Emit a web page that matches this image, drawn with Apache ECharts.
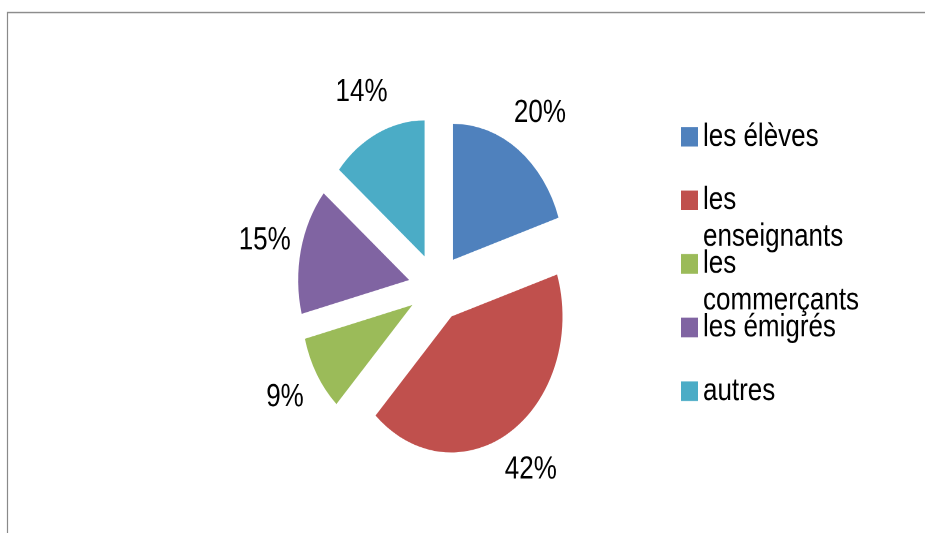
<!DOCTYPE html>
<html>
<head>
<meta charset="utf-8">
<script src="https://cdn.jsdelivr.net/npm/echarts@6/dist/echarts.min.js"></script>
<style>
  html, body { margin: 0; padding: 0; background: #fff; width: 925px; height: 533px; overflow: hidden; }
  /* the source picture is stretched vertically, so the chart is drawn 435px high and stretched */
  #chart {
    width: 925px;
    height: 435px;
    transform: scaleY(1.2253);
    transform-origin: 0 0;
  }
</style>
</head>
<body>
<div id="chart"></div>
<script>
// parts, in percent
const categories = ['les élèves', 'les enseignants', 'les commerçants', 'les émigrés', 'autres']
const values = [20, 42, 9, 15, 14]
const colors = ['#4F81BD', '#C0504D', '#9BBB59', '#8064A2', '#4BACC6']

const FONT = '"Liberation Sans", Arial, sans-serif'
const legendWidth = 165

const ctx = document.createElement('canvas').getContext('2d')
ctx.font = '26px ' + FONT

// wrap long names at the first space; pad with blank lines so the icon sits on the first line
function legendText(name) {
  let lines = [name]
  if (ctx.measureText(name).width > legendWidth) {
    const i = name.indexOf(' ')
    lines = [name.slice(0, i), name.slice(i + 1)]
  }
  if (lines.length === 1) lines.push(' ')
  return [' '].concat(lines).join('\n')
}

const chart = echarts.init(document.getElementById('chart'), null, { devicePixelRatio: 2 })

chart.setOption({
  animation: false,
  graphic: [{
    type: 'rect',
    shape: { x: 7.5, y: 10.2, width: 1200, height: 1200 },
    style: { fill: 'none', stroke: '#8a8a8a', lineWidth: 1.2 },
    silent: true
  }],
  legend: {
    orient: 'vertical',
    left: 676,
    top: 61.6,
    itemWidth: 17,
    itemHeight: 16,
    itemGap: -38.1,
    icon: 'rect',
    data: categories,
    formatter: legendText,
    textStyle: {
      fontFamily: FONT,
      fontSize: 26,
      color: '#000',
      lineHeight: 30
    }
  },
  series: [{
    type: 'pie',
    center: [436.5, 234.6],
    radius: 111,
    startAngle: 90,
    clockwise: true,
    selectedMode: 'multiple',
    selectedOffset: 28,
    label: { show: false },
    labelLine: { show: false },
    emphasis: { scale: false },
    data: categories.map((name, i) => ({
      name,
      value: values[i],
      selected: true,
      itemStyle: { color: colors[i] }
    }))
  }, {
    // invisible ring, only places the percent labels
    type: 'pie',
    center: [436.5, 234.6],
    radius: [137, 153],
    startAngle: 90,
    clockwise: true,
    selectedMode: 'multiple',
    selectedOffset: 28,
    silent: true,
    legendHoverLink: false,
    itemStyle: { color: 'rgba(0,0,0,0)' },
    label: {
      show: true,
      position: 'inside',
      formatter: '{c}%',
      fontFamily: FONT,
      fontSize: 26,
      color: '#000'
    },
    labelLine: { show: false },
    emphasis: { disabled: true },
    data: categories.map((name, i) => ({ name, value: values[i], selected: true }))
  }]
})
</script>
</body>
</html>
